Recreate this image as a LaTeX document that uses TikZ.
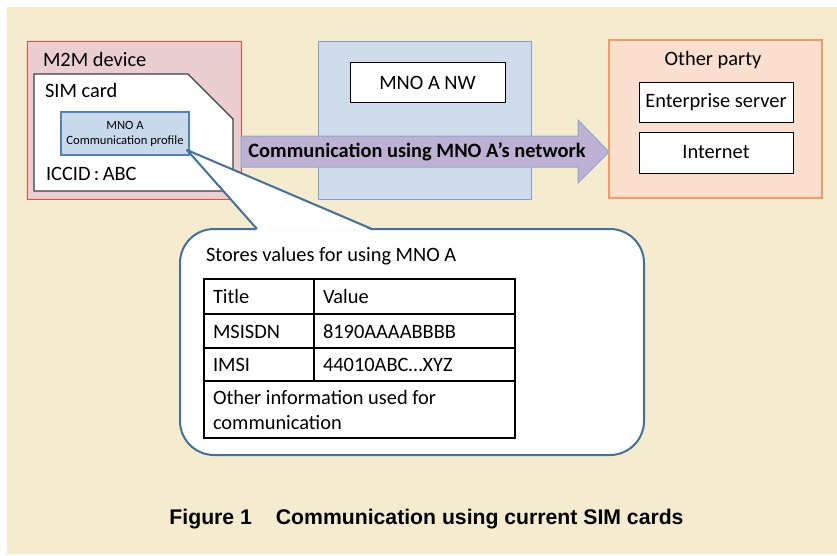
\documentclass[tikz,border=0pt]{standalone}
\usepackage{fontspec}
\setmainfont{Carlito}
\newfontfamily\capfont{Liberation Sans}
\definecolor{bg}{HTML}{F5EBCF}
\definecolor{m2mfill}{HTML}{EBCFD0}
\definecolor{m2mline}{HTML}{FF4040}
\definecolor{simline}{HTML}{404040}
\definecolor{proffill}{HTML}{C9D9EC}
\definecolor{profline}{HTML}{4F81BD}
\definecolor{mnofill}{HTML}{CEDCEB}
\definecolor{mnoline}{HTML}{7F9FCF}
\definecolor{otherfill}{HTML}{FBDFCF}
\definecolor{otherline}{HTML}{F79B65}
\definecolor{arrowfill}{HTML}{BEB1D4}
\definecolor{arrowline}{HTML}{8EA5CC}
\definecolor{calloutline}{HTML}{41719C}
\tikzset{
  lbl/.style={inner sep=0pt, outer sep=0pt},
  whitebox/.style={draw=black, fill=white, line width=1pt, inner sep=0pt},
  calloutstyle/.style={draw=calloutline, line width=2pt, line join=round},
}
\begin{document}
\begin{tikzpicture}[x=1pt, y=-1pt, font=\fontsize{20.4}{24}\selectfont]
\useasboundingbox (0,0) rectangle (837,555);
\fill[bg] (7,7) rectangle (837,554);

% M2M device
\node[draw=m2mline, fill=m2mfill, line width=1pt, minimum width=214pt, minimum height=158pt, inner sep=0pt] (m2m) at (134,120) {};
\node[lbl, anchor=base west] (m2mlbl) at (43,66) {M2M device};
\draw[draw=simline, fill=white, line width=1.3pt] (34,74) coordinate (sim) -- (188,74) -- (233,119) -- (233,191) -- (34,191) -- cycle;
\node[lbl, anchor=base west] (simlbl) at (45,97) {SIM card};
\node[draw=profline, fill=proffill, line width=2pt, minimum width=128pt, minimum height=43pt, inner sep=0pt, align=center, font=\fontsize{12.6}{15}\selectfont] (prof) at (125,133.5) {MNO A\\Communication profile};
\node[lbl, anchor=base west] (iccid) at (46,180) {ICCID\,:\,ABC};

% MNO network
\node[draw=mnoline, fill=mnofill, line width=1pt, minimum width=213pt, minimum height=158pt, inner sep=0pt] (mno) at (424.5,120) {};
\node[whitebox, minimum width=155pt, minimum height=40pt] (nw) at (427.5,82.5) {MNO A NW};

% Other party
\node[draw=otherline, fill=otherfill, line width=1.2pt, minimum width=213pt, minimum height=158pt, inner sep=0pt] (other) at (715.5,119) {};
\node[lbl, anchor=base] (otherlbl) at (713,65) {Other party};
\node[whitebox, minimum width=154pt, minimum height=40pt] (ent) at (716,102) {Enterprise server};
\node[whitebox, minimum width=154pt, minimum height=41pt] (inet) at (716,152.5) {Internet};

% Arrow
\draw[draw=arrowline, fill=arrowfill, line width=1pt] (241,136) coordinate (arrowtail) -- (578,136) -- (578,120) -- (609,152) coordinate (arrowtip) -- (578,183) -- (578,167) -- (241,167) -- cycle;
\node[lbl, anchor=base, font=\fontsize{20.4}{24}\selectfont\bfseries] (arrowtxt) at (417,157) {Communication using MNO A’s network};

% Callout
\draw[calloutstyle, fill=white, rounded corners=34pt] (180,229) rectangle (644,455);
\coordinate (ptip) at (187,150);
\coordinate (pl) at (257,229);
\coordinate (pr) at (372,229);
\fill[white] ([yshift=-1.5pt]pl) -- (ptip) -- ([yshift=-1.5pt]pr) -- cycle;
\draw[calloutstyle] (pl) -- (ptip) -- (pr);
\node[lbl, anchor=base west] (stores) at (206,261) {Stores values for using MNO A};

% Table
\draw[black, line width=1.3pt] (204,279) rectangle (515,438);
\draw[black, line width=1.3pt] (204,314) -- (515,314) (204,348) -- (515,348) (204,381) -- (515,381) (314,279) -- (314,381);
\node[lbl, anchor=base west] (t11) at (213,303) {Title};
\node[lbl, anchor=base west] (t12) at (323,303) {Value};
\node[lbl, anchor=base west] (t21) at (213,338) {MSISDN};
\node[lbl, anchor=base west] (t22) at (323,338) {8190AAAABBBB};
\node[lbl, anchor=base west] (t31) at (213,371) {IMSI};
\node[lbl, anchor=base west] (t32) at (323,371) {44010ABC…XYZ};
\node[lbl, anchor=base west] (t41) at (213,404) {Other information used for};
\node[lbl, anchor=base west] (t42) at (213,429) {communication};

% Caption
\node[lbl, anchor=base, font=\capfont\fontsize{21.2}{25}\selectfont\bfseries] (caption) at (426.5,524) {Figure 1\hspace{24pt}Communication using current SIM cards};
\end{tikzpicture}
\end{document}
